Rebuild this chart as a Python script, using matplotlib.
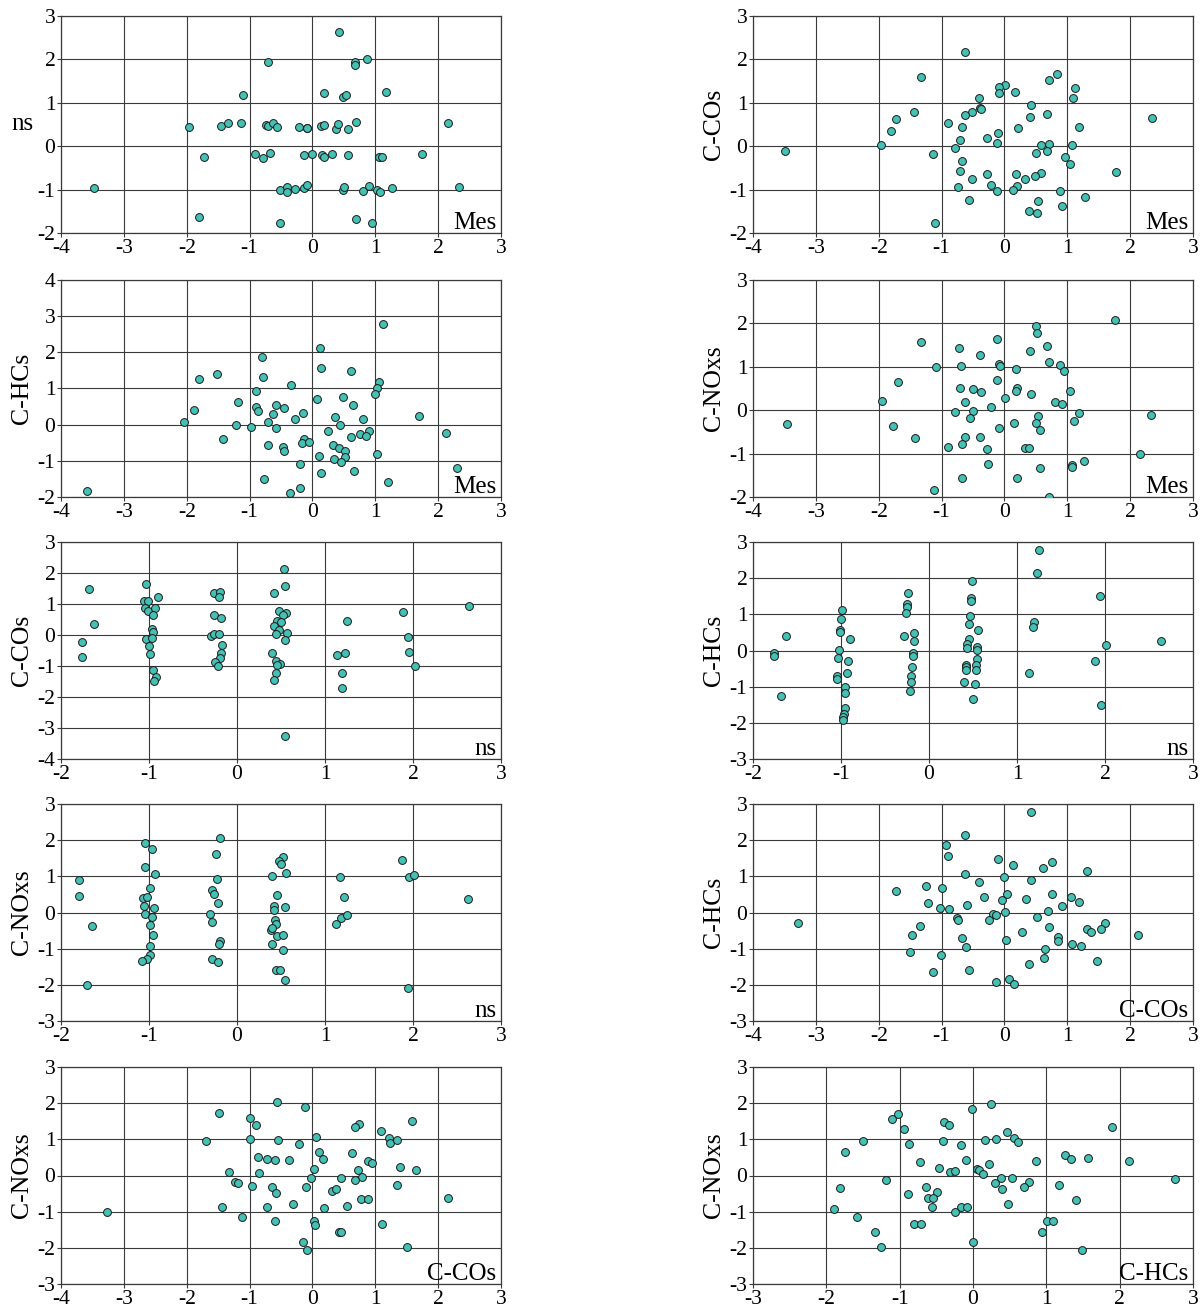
import matplotlib
matplotlib.use("Agg")
import matplotlib.pyplot as plt

plt.rcParams["font.family"] = ["Liberation Serif", "DejaVu Serif"]
plt.rcParams["axes.unicode_minus"] = False

# ---- data: (x values, y values) per panel ----
mes_ns_x = [0.42, -0.71, 0.67, 0.67, 0.87, -1.11, 0.18, 0.48, 0.53, 1.17,
            -1.96, -1.45, -1.34, -1.14, -0.74, -0.71, -0.63, -0.56, -0.22, -0.09,
            -0.08, 0.13, 0.19, 0.37, 0.40, 0.56, 0.70, 2.15, -1.73, -0.91,
            -0.79, -0.67, -0.13, 0.00, 0.16, 0.19, 0.31, 0.57, 1.06, 1.10,
            1.75, -3.48, -0.51, -0.41, -0.40, -0.28, -0.13, -0.09, 0.49, 0.51,
            0.81, 0.90, 1.03, 1.07, 1.26, 2.33, -1.81, -0.51, 0.70, 0.95]
mes_ns_y = [2.62, 1.95, 1.93, 1.87, 2.00, 1.18, 1.22, 1.14, 1.18, 1.24,
            0.44, 0.47, 0.53, 0.54, 0.49, 0.47, 0.54, 0.44, 0.44, 0.42,
            0.42, 0.46, 0.50, 0.40, 0.51, 0.40, 0.56, 0.53, -0.25, -0.18,
            -0.28, -0.16, -0.21, -0.19, -0.21, -0.25, -0.19, -0.21, -0.26, -0.26,
            -0.17, -0.97, -1.01, -0.93, -1.05, -0.98, -0.97, -0.90, -1.02, -0.94,
            -1.03, -0.92, -1.00, -1.05, -0.96, -0.95, -1.63, -1.76, -1.68, -1.76]

mes_cco_x = [-0.62, -1.33, 0.83, 0.71, 0.01, -0.08, -0.08, 0.17, 1.12, 1.09,
             -0.40, -0.39, -0.38, -1.44, -0.51, -0.62, 0.42, 0.40, 0.68, -1.72,
             -1.80, -0.90, -0.67, 0.21, 1.19, 2.35, -3.49, -1.96, -1.13, -0.79,
             -0.71, -0.28, -0.10, -0.12, -0.67, -0.70, -0.27, -0.51, -0.21, -0.74,
             -0.12, -0.56, -1.11, 0.58, 0.71, 1.08, 0.50, 0.68, 0.97, 1.05,
             0.19, 0.58, 0.49, 0.32, 0.20, 0.14, 0.88, 1.28, 0.53, 0.39,
             0.52, 0.91, 1.77]
mes_cco_y = [2.17, 1.59, 1.66, 1.52, 1.41, 1.36, 1.23, 1.26, 1.35, 1.11,
             1.10, 0.88, 0.86, 0.78, 0.78, 0.72, 0.95, 0.67, 0.74, 0.63,
             0.36, 0.54, 0.44, 0.41, 0.44, 0.66, -0.12, 0.02, -0.17, -0.04,
             0.15, 0.18, 0.30, 0.08, -0.33, -0.57, -0.64, -0.76, -0.89, -0.94,
             -1.03, -1.23, -1.76, 0.03, 0.04, 0.02, -0.15, -0.11, -0.25, -0.40,
             -0.63, -0.61, -0.68, -0.76, -0.91, -1.01, -1.04, -1.16, -1.27, -1.49,
             -1.53, -1.38, -0.59]

mes_chc_x = [1.12, 0.12, -0.80, 0.14, 0.62, -1.52, -1.80, -0.79, -0.34, 1.06,
             1.03, 0.99, -0.89, 0.08, 0.48, -1.18, -0.58, -0.46, -0.89, 0.65,
             -1.88, -0.86, -0.62, -0.15, 0.36, -0.28, 0.81, 1.70, -2.05, -0.70,
             -1.22, -0.98, -0.58, 0.44, 0.25, 0.90, 0.76, 0.85, 0.62, 2.12,
             -1.42, -0.14, -0.16, -0.06, -0.70, 0.33, -0.47, -0.45, 0.43, 0.52,
             0.11, 0.52, 0.34, 1.02, 0.45, -0.19, 0.66, 0.13, -0.77, 2.30,
             1.21, -3.58, -0.19, -0.35]
mes_chc_y = [2.77, 2.12, 1.88, 1.57, 1.49, 1.41, 1.25, 1.33, 1.09, 1.17,
             1.01, 0.85, 0.94, 0.70, 0.77, 0.62, 0.53, 0.46, 0.48, 0.55,
             0.40, 0.37, 0.30, 0.31, 0.22, 0.15, 0.16, 0.23, 0.06, 0.07,
             0.00, -0.07, -0.09, -0.02, -0.17, -0.17, -0.26, -0.32, -0.34, -0.24,
             -0.40, -0.41, -0.50, -0.48, -0.56, -0.57, -0.63, -0.72, -0.64, -0.72,
             -0.87, -0.89, -0.96, -0.81, -1.04, -1.10, -1.27, -1.35, -1.50, -1.19,
             -1.59, -1.83, -1.75, -1.90]

mes_cno_x = [1.76, 0.50, 0.52, -0.12, -1.32, -0.72, 0.68, 0.41, -0.39, -0.08,
             -0.07, -0.69, -1.09, 0.71, 0.88, 0.95, 0.18, -1.70, -0.12, -0.71,
             -0.50, -0.38, 0.20, 0.19, 0.42, 1.04, 0.01, -1.94, -0.62, -0.21,
             0.81, 0.91, -0.78, -0.50, -0.54, 1.18, 1.11, 0.53, 2.33, -3.46,
             -1.78, -0.09, 0.15, 0.50, 0.57, -1.43, -0.62, -0.39, -0.67, -0.89,
             -0.28, 0.32, 0.39, 2.15, -0.26, 1.08, 1.08, 1.26, 0.57, -0.67,
             0.20, -1.12, 0.71]
mes_cno_y = [2.07, 1.93, 1.79, 1.63, 1.57, 1.43, 1.47, 1.36, 1.27, 1.07,
             1.02, 1.01, 1.00, 1.10, 1.05, 0.91, 0.94, 0.64, 0.70, 0.50,
             0.48, 0.41, 0.52, 0.45, 0.38, 0.45, 0.27, 0.21, 0.18, 0.08,
             0.18, 0.14, -0.04, -0.02, -0.18, -0.06, -0.24, -0.14, -0.11, -0.32,
             -0.36, -0.42, -0.29, -0.30, -0.46, -0.64, -0.61, -0.62, -0.78, -0.84,
             -0.90, -0.86, -0.87, -1.00, -1.25, -1.27, -1.32, -1.16, -1.34, -1.56,
             -1.56, -1.85, -2.00]

ns_cco_x = [-1.68, -1.62, -1.76, -1.76, -1.03, -1.06, -1.01, -0.90, -1.05, -1.01,
            -0.93, -0.95, -0.97, -0.96, -1.03, -0.97, -1.00, -0.99, -0.96, -0.92,
            -0.94, -0.26, -0.19, -0.21, -0.26, -0.18, -0.29, -0.26, -0.21, -0.17,
            -0.18, -0.19, -0.25, -0.22, 0.53, 0.54, 0.42, 0.48, 0.56, 0.52,
            0.46, 0.50, 0.42, 0.48, 0.57, 0.44, 0.55, 0.40, 0.44, 0.49,
            0.45, 0.44, 0.42, 0.54, 1.25, 1.14, 1.23, 1.19, 1.19, 1.89,
            1.94, 1.96, 2.02, 2.64]
ns_cco_y = [1.50, 0.37, -0.24, -0.72, 1.64, 1.11, 1.10, 1.22, 0.88, 0.79,
            0.87, 0.66, 0.19, 0.10, -0.13, -0.10, -0.37, -0.61, -1.12, -1.34,
            -1.49, 1.34, 1.40, 1.24, 0.64, 0.55, -0.02, 0.02, 0.03, -0.31,
            -0.58, -0.73, -0.88, -1.00, 2.14, 1.58, 1.35, 0.79, 0.71, 0.64,
            0.45, 0.42, 0.30, 0.17, 0.05, 0.03, -0.15, -0.58, -0.85, -0.92,
            -0.98, -1.21, -1.45, -3.27, 0.45, -0.65, -0.59, -1.23, -1.71, 0.74,
            -0.08, -0.55, -1.00, 0.95]

ns_chc_x = [-1.63, -1.76, -1.76, -1.68, -0.99, -1.00, -1.01, -1.01, -0.90, -1.02,
            -1.03, -0.92, -0.93, -1.05, -1.05, -0.95, -0.95, -0.96, -0.97, -0.98,
            -0.98, -0.24, -0.25, -0.25, -0.26, -0.28, -0.17, -0.17, -0.18, -0.18,
            -0.19, -0.20, -0.21, -0.22, 0.49, 0.48, 0.48, 0.47, 0.46, 0.56,
            0.45, 0.43, 0.43, 0.55, 0.55, 0.42, 0.42, 0.42, 0.54, 0.53,
            0.53, 0.40, 0.52, 0.50, 1.25, 1.23, 1.19, 1.18, 1.14, 1.94,
            2.01, 1.89, 1.96, 2.64]
ns_chc_y = [0.41, -0.06, -0.15, -1.26, 1.13, 0.88, 0.57, 0.50, 0.33, 0.01,
            -0.22, -0.30, -0.63, -0.70, -0.79, -1.02, -1.18, -1.58, -1.75, -1.85,
            -1.91, 1.60, 1.28, 1.21, 1.04, 0.41, 0.49, 0.25, -0.07, -0.15,
            -0.46, -0.70, -0.87, -1.11, 1.91, 1.44, 1.36, 0.96, 0.72, 0.56,
            0.32, 0.17, 0.08, 0.09, 0.02, -0.39, -0.47, -0.55, -0.23, -0.39,
            -0.55, -0.87, -0.94, -1.34, 2.79, 2.15, 0.80, 0.64, -0.63, 1.52,
            0.16, -0.30, -1.50, 0.25]

ns_cno_x = [-1.79, -1.79, -1.65, -1.71, -1.05, -0.97, -1.04, -0.93, -0.99, -1.07,
            -1.02, -1.06, -0.94, -1.04, -0.97, -0.99, -0.95, -0.99, -0.99, -1.02,
            -1.08, -0.19, -0.24, -0.23, -0.28, -0.26, -0.22, -0.31, -0.28, -0.19,
            -0.20, -0.28, -0.22, 0.52, 0.48, 0.50, 0.56, 0.40, 0.46, 0.42,
            0.42, 0.54, 0.43, 0.44, 0.39, 0.40, 0.46, 0.52, 0.40, 0.52,
            0.44, 0.49, 0.54, 1.17, 1.22, 1.18, 1.25, 1.13, 1.88, 1.95,
            2.01, 1.94, 2.63]
ns_cno_y = [0.89, 0.47, -0.38, -2.00, 1.92, 1.76, 1.25, 1.06, 0.68, 0.40,
            0.43, 0.17, 0.12, -0.04, -0.12, -0.34, -0.63, -0.92, -1.18, -1.28,
            -1.34, 2.05, 1.62, 0.92, 0.63, 0.51, 0.25, -0.05, -0.26, -0.80,
            -0.87, -1.28, -1.37, 1.54, 1.42, 1.34, 1.08, 1.00, 0.48, 0.19,
            0.06, 0.16, -0.20, -0.31, -0.48, -0.42, -0.66, -0.63, -0.87, -1.03,
            -1.58, -1.58, -1.87, 0.98, 0.43, -0.16, -0.08, -0.31, 1.44, 0.99,
            1.03, -2.10, 0.37]

cco_chc_x = [0.42, -0.62, -0.93, -0.90, -0.11, 0.76, 0.61, 0.14, 1.31, -0.63,
             0.00, 0.42, -0.40, -1.25, -0.99, -1.72, -0.33, 0.04, 0.76, 1.06,
             -0.04, 0.34, 1.19, 0.92, -1.21, -0.59, -1.02, -0.88, 0.69, 0.01,
             -0.18, -0.14, -0.75, -0.74, -0.25, 0.52, 1.60, -1.35, 0.71, 1.32,
             1.37, 1.54, 2.12, -3.28, -1.47, 0.28, -0.67, 0.85, 0.86, 0.02,
             -0.61, 1.07, 1.22, 0.65, -1.51, -1.01, 0.63, 1.48, 0.39, -0.56,
             -1.13, -0.13, 0.08, 0.16]
cco_chc_y = [2.78, 2.13, 1.88, 1.56, 1.48, 1.40, 1.24, 1.31, 1.16, 1.07,
             0.99, 0.91, 0.84, 0.74, 0.67, 0.59, 0.44, 0.52, 0.51, 0.42,
             0.35, 0.37, 0.28, 0.18, 0.27, 0.20, 0.12, 0.11, 0.04, 0.02,
             -0.05, -0.06, -0.14, -0.21, -0.22, -0.13, -0.30, -0.37, -0.39, -0.46,
             -0.53, -0.46, -0.61, -0.28, -0.63, -0.54, -0.71, -0.69, -0.79, -0.77,
             -0.95, -0.86, -0.94, -1.01, -1.09, -1.18, -1.26, -1.34, -1.42, -1.58,
             -1.65, -1.91, -1.83, -1.99]

cco_cno_x = [-0.56, -0.12, -1.49, 1.58, -0.99, -0.90, 0.74, 0.67, 1.09, 1.22,
             1.24, 1.35, -1.70, -1.00, -0.54, 0.06, -0.22, 0.11, 0.63, -0.87,
             -0.72, -0.59, -0.38, 0.17, 0.88, 0.95, 1.40, 1.64, 0.03, -1.33,
             -0.85, 0.72, -0.02, 0.45, 0.79, 0.67, -1.23, -1.19, -0.96, -0.65,
             1.34, -0.58, -0.10, 0.31, 0.38, 2.15, 0.78, 0.88, -0.31, -1.44,
             -0.72, 0.19, 0.55, -3.27, -1.12, -0.60, 0.03, 0.04, 1.11, 0.42,
             0.46, -0.15, -0.08, 1.50]
cco_cno_y = [2.02, 1.89, 1.74, 1.52, 1.59, 1.39, 1.42, 1.33, 1.23, 1.03,
             0.90, 0.99, 0.96, 1.02, 0.98, 1.06, 0.88, 0.66, 0.61, 0.50,
             0.45, 0.42, 0.42, 0.47, 0.39, 0.35, 0.24, 0.16, 0.19, 0.11,
             0.06, 0.16, -0.06, -0.07, -0.04, -0.12, -0.17, -0.20, -0.30, -0.31,
             -0.25, -0.48, -0.33, -0.42, -0.37, -0.62, -0.66, -0.64, -0.79, -0.88,
             -0.86, -0.91, -0.85, -1.02, -1.16, -1.26, -1.27, -1.36, -1.33, -1.56,
             -1.55, -1.84, -2.07, -1.99]

chc_cno_x = [0.24, -0.01, -1.02, -1.10, -0.39, -0.33, 1.89, -0.94, 0.46, 0.56,
             0.62, 0.16, 0.32, -1.50, -0.41, -0.87, -0.17, -1.74, 1.25, 1.33,
             1.57, 0.86, 2.13, -0.10, -0.72, 0.22, -0.47, -0.31, -0.25, 0.06,
             0.08, 0.14, 0.38, 0.53, 0.77, -1.18, 0.30, 1.17, 0.70, 0.39,
             -1.81, -0.64, -0.49, -0.88, -0.62, -0.54, 1.41, 0.48, -0.56, -0.16,
             -0.08, -1.89, -0.24, -1.58, -0.81, -0.71, 1.01, 1.09, -1.34, 0.94,
             0.00, -1.26, 1.49, 2.76]
chc_cno_y = [1.99, 1.84, 1.70, 1.55, 1.49, 1.39, 1.35, 1.29, 1.19, 1.04,
             0.94, 0.99, 1.01, 0.95, 0.96, 0.88, 0.85, 0.64, 0.58, 0.45,
             0.48, 0.40, 0.40, 0.43, 0.36, 0.33, 0.22, 0.10, 0.13, 0.17,
             0.15, 0.04, -0.07, -0.06, -0.17, -0.13, -0.22, -0.27, -0.31, -0.38,
             -0.35, -0.33, -0.46, -0.50, -0.63, -0.63, -0.67, -0.79, -0.88, -0.86,
             -0.86, -0.92, -1.01, -1.16, -1.33, -1.34, -1.27, -1.26, -1.56, -1.56,
             -1.83, -1.97, -2.06, -0.09]

# panel: x, y, y label, x label (corner), x range, y range
panels = [
    (mes_ns_x, mes_ns_y, "ns", "Mes", (-4, 3), (-2, 3)),
    (mes_cco_x, mes_cco_y, "C-COs", "Mes", (-4, 3), (-2, 3)),
    (mes_chc_x, mes_chc_y, "C-HCs", "Mes", (-4, 3), (-2, 4)),
    (mes_cno_x, mes_cno_y, "C-NOxs", "Mes", (-4, 3), (-2, 3)),
    (ns_cco_x, ns_cco_y, "C-COs", "ns", (-2, 3), (-4, 3)),
    (ns_chc_x, ns_chc_y, "C-HCs", "ns", (-2, 3), (-3, 3)),
    (ns_cno_x, ns_cno_y, "C-NOxs", "ns", (-2, 3), (-3, 3)),
    (cco_chc_x, cco_chc_y, "C-HCs", "C-COs", (-4, 3), (-3, 3)),
    (cco_cno_x, cco_cno_y, "C-NOxs", "C-COs", (-4, 3), (-3, 3)),
    (chc_cno_x, chc_cno_y, "C-NOxs", "C-HCs", (-3, 3), (-3, 3)),
]

W, H = 1203, 1310
fig = plt.figure(figsize=(W / 100, H / 100), dpi=100)

lefts = [61, 753]
tops = [16, 280, 542, 804, 1067]
ax_w, ax_h = 440, 217

for i, (xs, ys, ylab, xlab, xr, yr) in enumerate(panels):
    assert len(xs) == len(ys)
    row, col = divmod(i, 2)
    l, t = lefts[col], tops[row]
    ax = fig.add_axes([l / W, 1 - (t + ax_h) / H, ax_w / W, ax_h / H])
    ax.scatter(xs, ys, s=32, color="#45c0b4", edgecolors="#1a1a1a",
               linewidths=0.7, zorder=3)
    ax.set_xlim(*xr)
    ax.set_ylim(*yr)
    ax.set_xticks(range(xr[0], xr[1] + 1))
    ax.set_yticks(range(yr[0], yr[1] + 1))
    ax.grid(True, color="#3a3a3a", linewidth=0.8)
    ax.set_axisbelow(True)
    for sp in ax.spines.values():
        sp.set_color("#3a3a3a")
        sp.set_linewidth(0.9)
    ax.tick_params(direction="out", length=3, width=0.8, color="#3a3a3a",
                   labelsize=15.5, pad=1)
    if ylab == "ns":
        ax.set_ylabel(ylab, fontsize=18, rotation=0, ha="center", va="center")
    else:
        ax.set_ylabel(ylab, fontsize=18.5, va="center")
    ax.yaxis.set_label_coords(-0.088, 0.5)
    ax.text(0.99, 0.018, xlab, transform=ax.transAxes, ha="right",
            va="baseline", fontsize=18)

fig.savefig("out.png", dpi=100)
